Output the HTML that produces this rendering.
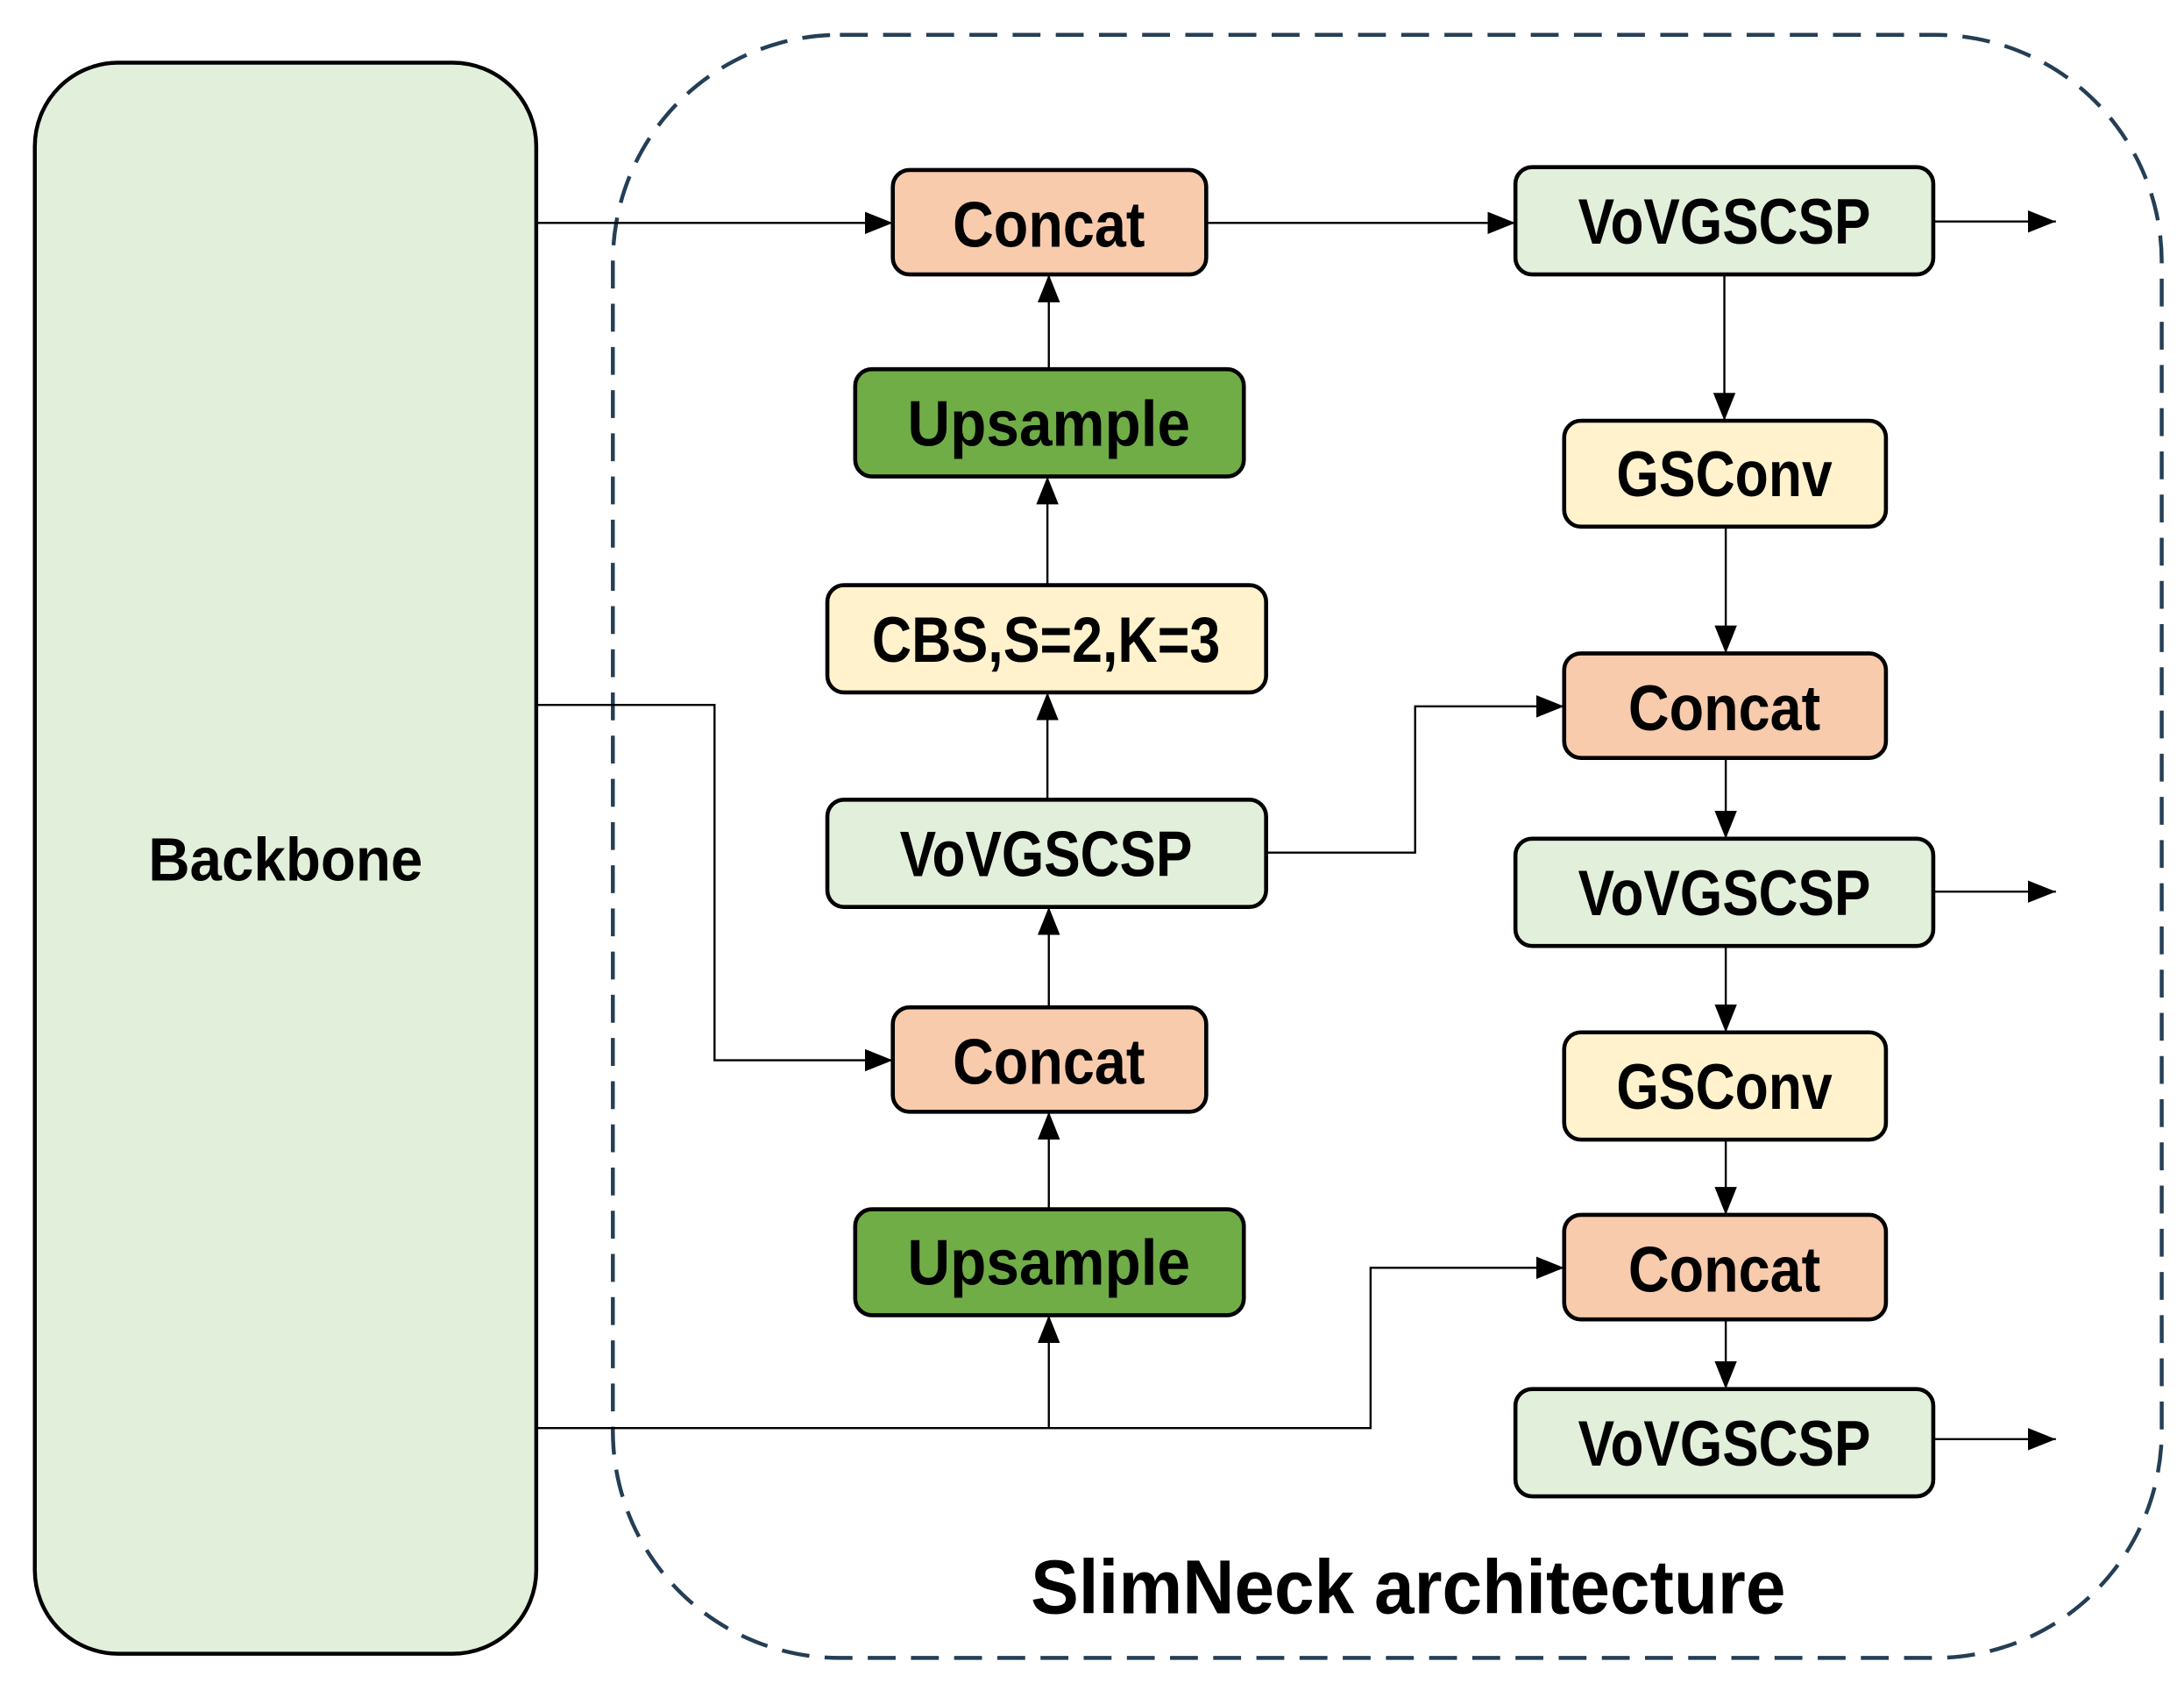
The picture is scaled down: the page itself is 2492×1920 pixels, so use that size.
<!DOCTYPE html>
<html><head><meta charset="utf-8"><style>
html,body{margin:0;padding:0;background:#fff;}
svg{display:block;}
text{font-family:"Liberation Sans",sans-serif;font-weight:bold;fill:#000;}
</style></head><body>
<svg width="2492" height="1920" viewBox="0 0 1568 1208" preserveAspectRatio="none" xmlns="http://www.w3.org/2000/svg">
<defs>
<marker id="b" markerWidth="20" markerHeight="16" refX="20" refY="8" orient="auto" markerUnits="userSpaceOnUse">
<path d="M0,0 L20,8 L0,16 Z" fill="#000"/>
</marker>
</defs>
<!-- dashed container -->
<rect x="440" y="25" width="1112" height="1165" rx="163" ry="163" fill="none" stroke="#243f55" stroke-width="2.8" stroke-dasharray="20,11"/>
<!-- backbone -->
<rect x="25" y="45" width="360" height="1142" rx="60" ry="60" fill="#e2efda" stroke="#000" stroke-width="2.8"/>
<text x="205" y="632" font-size="44" text-anchor="middle" textLength="197" lengthAdjust="spacingAndGlyphs">Backbone</text>

<g fill="none" stroke="#000" stroke-width="1.5">
<path d="M385,160 H641" marker-end="url(#b)"/>
<path d="M385,506 H513 V761 H641" marker-end="url(#b)"/>
<path d="M385,1025 H984 V910 H1123" marker-end="url(#b)"/>
<path d="M753,1025 V944" marker-end="url(#b)"/>
<path d="M753,868 V798" marker-end="url(#b)"/>
<path d="M753,723 V651" marker-end="url(#b)"/>
<path d="M752,574 V497" marker-end="url(#b)"/>
<path d="M752,420 V342" marker-end="url(#b)"/>
<path d="M753,265 V197" marker-end="url(#b)"/>
<path d="M866,160 H1088" marker-end="url(#b)"/>
<path d="M909,612 H1016 V507 H1123" marker-end="url(#b)"/>
<path d="M1238,197 V302" marker-end="url(#b)"/>
<path d="M1239,378 V469" marker-end="url(#b)"/>
<path d="M1239,544 V602" marker-end="url(#b)"/>
<path d="M1239,679 V741" marker-end="url(#b)"/>
<path d="M1239,818 V872" marker-end="url(#b)"/>
<path d="M1239,947 V997" marker-end="url(#b)"/>
<path d="M1388,159 H1476" marker-end="url(#b)"/>
<path d="M1388,640 H1476" marker-end="url(#b)"/>
<path d="M1388,1033 H1476" marker-end="url(#b)"/>
</g>

<g stroke="#000" stroke-width="2.9">
<rect x="641" y="122" width="225" height="75" rx="12" fill="#f8cbad"/>
<rect x="614" y="265" width="279" height="77" rx="12" fill="#70ad47"/>
<rect x="594" y="420" width="315" height="77" rx="12" fill="#fff2cc"/>
<rect x="594" y="574" width="315" height="77" rx="12" fill="#e2efda"/>
<rect x="641" y="723" width="225" height="75" rx="12" fill="#f8cbad"/>
<rect x="614" y="868" width="279" height="76" rx="12" fill="#70ad47"/>
<rect x="1088" y="120" width="300" height="77" rx="12" fill="#e2efda"/>
<rect x="1123" y="302" width="231" height="76" rx="12" fill="#fff2cc"/>
<rect x="1123" y="469" width="231" height="75" rx="12" fill="#f8cbad"/>
<rect x="1088" y="602" width="300" height="77" rx="12" fill="#e2efda"/>
<rect x="1123" y="741" width="231" height="77" rx="12" fill="#fff2cc"/>
<rect x="1123" y="872" width="231" height="75" rx="12" fill="#f8cbad"/>
<rect x="1088" y="997" width="300" height="77" rx="12" fill="#e2efda"/>
</g>

<g font-size="46" text-anchor="middle">
<text x="753" y="177" textLength="138" lengthAdjust="spacingAndGlyphs">Concat</text>
<text x="753" y="320" textLength="203" lengthAdjust="spacingAndGlyphs">Upsample</text>
<text x="751" y="475" textLength="250" lengthAdjust="spacingAndGlyphs">CBS,S=2,K=3</text>
<text x="751" y="629" textLength="210" lengthAdjust="spacingAndGlyphs">VoVGSCSP</text>
<text x="753" y="778" textLength="138" lengthAdjust="spacingAndGlyphs">Concat</text>
<text x="753" y="922" textLength="203" lengthAdjust="spacingAndGlyphs">Upsample</text>
<text x="1238" y="175" textLength="210" lengthAdjust="spacingAndGlyphs">VoVGSCSP</text>
<text x="1238" y="356" textLength="155" lengthAdjust="spacingAndGlyphs">GSConv</text>
<text x="1238" y="524" textLength="138" lengthAdjust="spacingAndGlyphs">Concat</text>
<text x="1238" y="657" textLength="210" lengthAdjust="spacingAndGlyphs">VoVGSCSP</text>
<text x="1238" y="796" textLength="155" lengthAdjust="spacingAndGlyphs">GSConv</text>
<text x="1238" y="927" textLength="138" lengthAdjust="spacingAndGlyphs">Concat</text>
<text x="1238" y="1052" textLength="210" lengthAdjust="spacingAndGlyphs">VoVGSCSP</text>
</g>
<text x="1011" y="1158" font-size="55" text-anchor="middle" textLength="542" lengthAdjust="spacingAndGlyphs">SlimNeck architecture</text>
</svg>
</body></html>
